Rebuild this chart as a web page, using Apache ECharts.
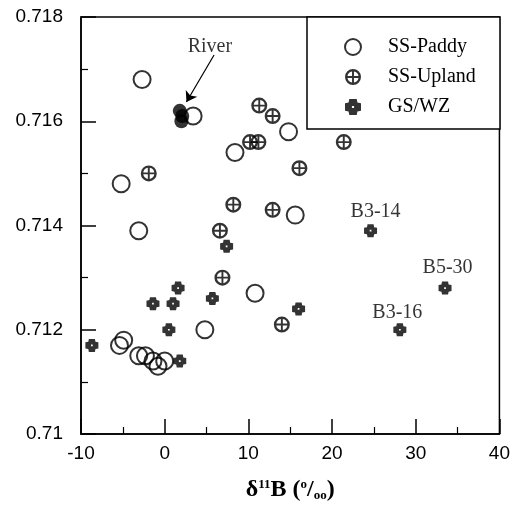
<!DOCTYPE html>
<html>
<head>
<meta charset="utf-8">
<script src="https://cdn.jsdelivr.net/npm/echarts@6/dist/echarts.min.js"></script>
<style>
html, body { margin: 0; padding: 0; background: #fff; }
#chart { width: 513px; height: 508px; }
</style>
</head>
<body>
<div id="chart"></div>
<script>
// d11B (x) vs 87Sr/86Sr (y)
var paddy = [
  [-2.7, 0.7168], [3.4, 0.7161], [-5.2, 0.7148], [-3.1, 0.7139],
  [14.8, 0.7158], [8.4, 0.7154], [15.6, 0.7142], [10.8, 0.7127],
  [4.8, 0.7120], [-5.4, 0.7117], [-4.9, 0.7118], [-3.1, 0.7115],
  [-2.3, 0.7115], [-1.4, 0.7114], [-0.8, 0.7113], [0.0, 0.7114]
];
var upland = [
  [-1.9, 0.7150], [11.3, 0.7163], [12.9, 0.7161], [10.2, 0.7156],
  [11.2, 0.7156], [21.4, 0.7156], [16.1, 0.7151], [8.2, 0.7144],
  [12.9, 0.7143], [6.6, 0.7139], [6.9, 0.7130], [14.0, 0.7121]
];
var gswz = [
  [7.4, 0.7136], [1.6, 0.7128], [1.0, 0.7125], [-1.4, 0.7125],
  [5.7, 0.7126], [0.5, 0.7120], [-8.7, 0.7117], [1.8, 0.7114],
  [16.0, 0.7124], [24.6, 0.7139], [33.5, 0.7128], [28.1, 0.7120]
];
var river = [[1.8, 0.7162], [2.0, 0.7160], [2.1, 0.7161]];

// text notes: [x, y, text]
var notes = [
  [5.4, 0.71742, 'River'],
  [25.2, 0.71426, 'B3-14'],
  [33.8, 0.71318, 'B5-30'],
  [27.8, 0.71233, 'B3-16']
];
var riverArrow = [[5.9, 0.71727], [2.6, 0.71637]];

var seriesNames = ['SS-Paddy', 'SS-Upland', 'GS/WZ'];

var crossCircle = 'path://M10 0A10 10 0 1 1 10 20A10 10 0 1 1 10 0Z' +
  'M8.8 8.8L8.8 3.1A7 7 0 0 0 3.1 8.8Z' +
  'M11.2 8.8L16.9 8.8A7 7 0 0 0 11.2 3.1Z' +
  'M11.2 11.2L11.2 16.9A7 7 0 0 0 16.9 11.2Z' +
  'M8.8 11.2L3.1 11.2A7 7 0 0 0 8.8 16.9Z';
var cogCross = 'path://M3.2 0L8.8 0L9.3 2.7L12 3.2L12 8.8L9.3 9.3L8.8 12L3.2 12L2.7 9.3L0 8.8L0 3.2L2.7 2.7Z' +
  'M5.2 5.2L5.2 6.8L6.8 6.8L6.8 5.2Z';

var serif = 'Liberation Serif';
var sans = 'Liberation Sans';

var chart = echarts.init(document.getElementById('chart'));

chart.setOption({
  animation: false,
  backgroundColor: '#fff',
  grid: {
    left: 81, right: 13, top: 17, bottom: 74,
    show: true, borderColor: '#000', borderWidth: 1.5
  },
  graphic: [{
    type: 'rect', z: 3,
    shape: { x: 307, y: 17, width: 193, height: 112 },
    style: { fill: '#fff', stroke: '#000', lineWidth: 1.5 }
  }],
  legend: {
    data: seriesNames,
    orient: 'vertical',
    left: 339, top: 32,
    itemWidth: 16, itemHeight: 16, itemGap: 10,
    z: 5,
    textStyle: { fontFamily: serif, fontSize: 20, color: '#000', lineHeight: 20, padding: [0, 0, 0, 22] }
  },
  xAxis: {
    type: 'value', min: -10, max: 40, interval: 10,
    name: '{d|δ}{s|11}{d|B (}{s|o}{d|/}{u|oo}{d|)}',
    nameLocation: 'middle', nameGap: 44,
    nameTextStyle: {
      rich: {
        d: { fontFamily: serif, fontWeight: 'bold', fontSize: 24, color: '#000', verticalAlign: 'bottom' },
        s: { fontFamily: serif, fontWeight: 'bold', fontSize: 13, color: '#000', verticalAlign: 'top' },
        u: { fontFamily: serif, fontWeight: 'bold', fontSize: 13, color: '#000', verticalAlign: 'bottom' }
      }
    },
    splitLine: { show: false },
    axisLine: { onZero: false, lineStyle: { color: '#000', width: 1.5 } },
    axisTick: { inside: true, length: 15, lineStyle: { color: '#000', width: 1.5 } },
    minorTick: { show: true, splitNumber: 2, length: 7, lineStyle: { color: '#000', width: 1.2 } },
    axisLabel: { margin: 10, fontFamily: sans, fontSize: 19, color: '#000' }
  },
  yAxis: {
    type: 'value', min: 0.71, max: 0.718, interval: 0.002,
    splitLine: { show: false },
    axisLine: { onZero: false, lineStyle: { color: '#000', width: 1.5 } },
    axisTick: { inside: true, length: 15, lineStyle: { color: '#000', width: 1.5 } },
    minorTick: { show: true, splitNumber: 2, length: 7, lineStyle: { color: '#000', width: 1.2 } },
    axisLabel: {
      margin: 18, fontFamily: sans, fontSize: 19, color: '#000',
      formatter: function (v) { return String(+v.toFixed(3)); }
    }
  },
  series: [
    {
      name: 'SS-Paddy', type: 'scatter', data: paddy,
      symbol: 'circle', symbolSize: 17,
      itemStyle: { color: 'rgba(0,0,0,0)', borderColor: '#000', borderWidth: 2 }
    },
    {
      name: 'SS-Upland', type: 'scatter', data: upland,
      symbol: crossCircle, symbolSize: 16,
      itemStyle: { color: '#000' }
    },
    {
      name: 'GS/WZ', type: 'scatter', data: gswz,
      symbol: cogCross, symbolSize: 13,
      itemStyle: { color: '#000' }
    },
    {
      name: 'River', type: 'scatter', data: river,
      symbol: 'circle', symbolSize: 14,
      itemStyle: { color: '#000' }
    },
    {
      name: 'notes', type: 'scatter', symbolSize: 0, silent: true,
      data: notes.map(function (n) { return { value: [n[0], n[1]], name: n[2] }; }),
      label: {
        show: true, position: 'inside', formatter: function (p) { return p.name; },
        fontFamily: serif, fontSize: 20, color: '#000'
      },
      markLine: {
        silent: true, animation: false,
        symbol: ['none', 'arrow'], symbolSize: 10,
        label: { show: false },
        lineStyle: { color: '#000', width: 1.2, type: 'solid' },
        data: [[{ coord: riverArrow[0] }, { coord: riverArrow[1] }]]
      }
    }
  ]
});
</script>
</body>
</html>
